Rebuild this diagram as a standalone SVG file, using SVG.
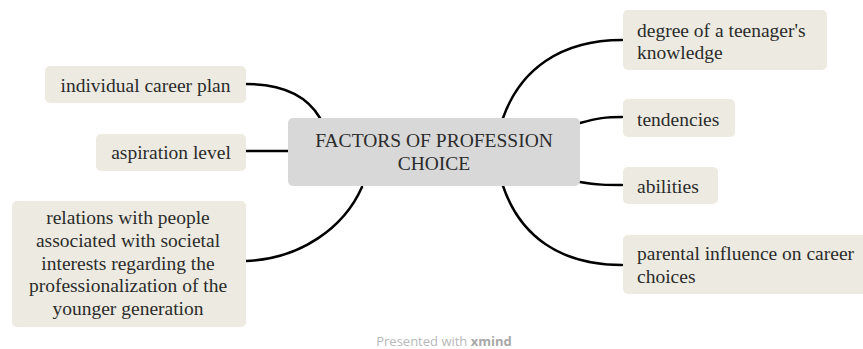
<svg xmlns="http://www.w3.org/2000/svg" width="863" height="349" viewBox="0 0 863 349">
<style>
  .sub { fill: #edebe1; }
  .main { fill: #d8d8d8; }
  .t { font-family: 'Liberation Serif', 'Times New Roman', Times, 'DejaVu Serif', serif; font-size: 19.5px; fill: #2b2b2b; }
  .c { text-anchor: middle; }
  .conn path { fill: none; stroke: #000; stroke-width: 2.5; stroke-linecap: round; }
  .brand { font-family: 'Open Sans', 'Liberation Sans', sans-serif; font-size: 13px; fill: #b8b8b8; text-anchor: middle; }
</style>
<rect width="863" height="349" fill="#ffffff"/>
<g id="connectors" class="conn">
  <path d="M246,84 C280,84 306,94 320,118"/>
  <path d="M246,151 L288,151"/>
  <path d="M246,261 C300,259 344,228 362,187"/>
  <path d="M503,118 C520,70 560,40 622,40"/>
  <path d="M580,123 C598,118 606,117 622,117"/>
  <path d="M580,182 C598,185 606,185 622,185"/>
  <path d="M503,186 C520,236 560,265 622,265"/>
</g>
<g id="central">
  <rect class="main" x="288" y="118" width="292" height="68" rx="5"/>
  <text class="t c" x="434" y="147" font-family="Liberation Serif, serif">FACTORS OF PROFESSION</text>
  <text class="t c" x="434" y="170" font-family="Liberation Serif, serif">CHOICE</text>
</g>
<g id="individual-career-plan">
  <rect class="sub" x="45" y="66" width="201" height="37" rx="5"/>
  <text class="t c" x="145.5" y="92">individual career plan</text>
</g>
<g id="aspiration-level">
  <rect class="sub" x="96" y="134" width="150" height="37" rx="5"/>
  <text class="t c" x="171" y="159">aspiration level</text>
</g>
<g id="relations">
  <rect class="sub" x="12" y="201" width="234" height="126" rx="5"/>
  <text class="t c" x="128" y="224">relations with people</text>
  <text class="t c" x="128" y="246.75">associated with societal</text>
  <text class="t c" x="128" y="269.5">interests regarding the</text>
  <text class="t c" x="128" y="292.25">professionalization of the</text>
  <text class="t c" x="128" y="315">younger generation</text>
</g>
<g id="degree-knowledge">
  <rect class="sub" x="623" y="10" width="204" height="60" rx="5"/>
  <text class="t" x="637" y="36.7">degree of a teenager's</text>
  <text class="t" x="637" y="59.4">knowledge</text>
</g>
<g id="tendencies">
  <rect class="sub" x="623" y="99" width="112" height="38" rx="5"/>
  <text class="t" x="637" y="126">tendencies</text>
</g>
<g id="abilities">
  <rect class="sub" x="623" y="167" width="95" height="37" rx="5"/>
  <text class="t" x="637" y="192.5">abilities</text>
</g>
<g id="parental-influence">
  <rect class="sub" x="623" y="235" width="252" height="59" rx="5"/>
  <text class="t" x="637" y="260">parental influence on career</text>
  <text class="t" x="637" y="282.7">choices</text>
</g>
<text class="brand" x="444" y="346">Presented with <tspan font-weight="bold" fill="#a8a8a8">xmind</tspan></text>
</svg>
